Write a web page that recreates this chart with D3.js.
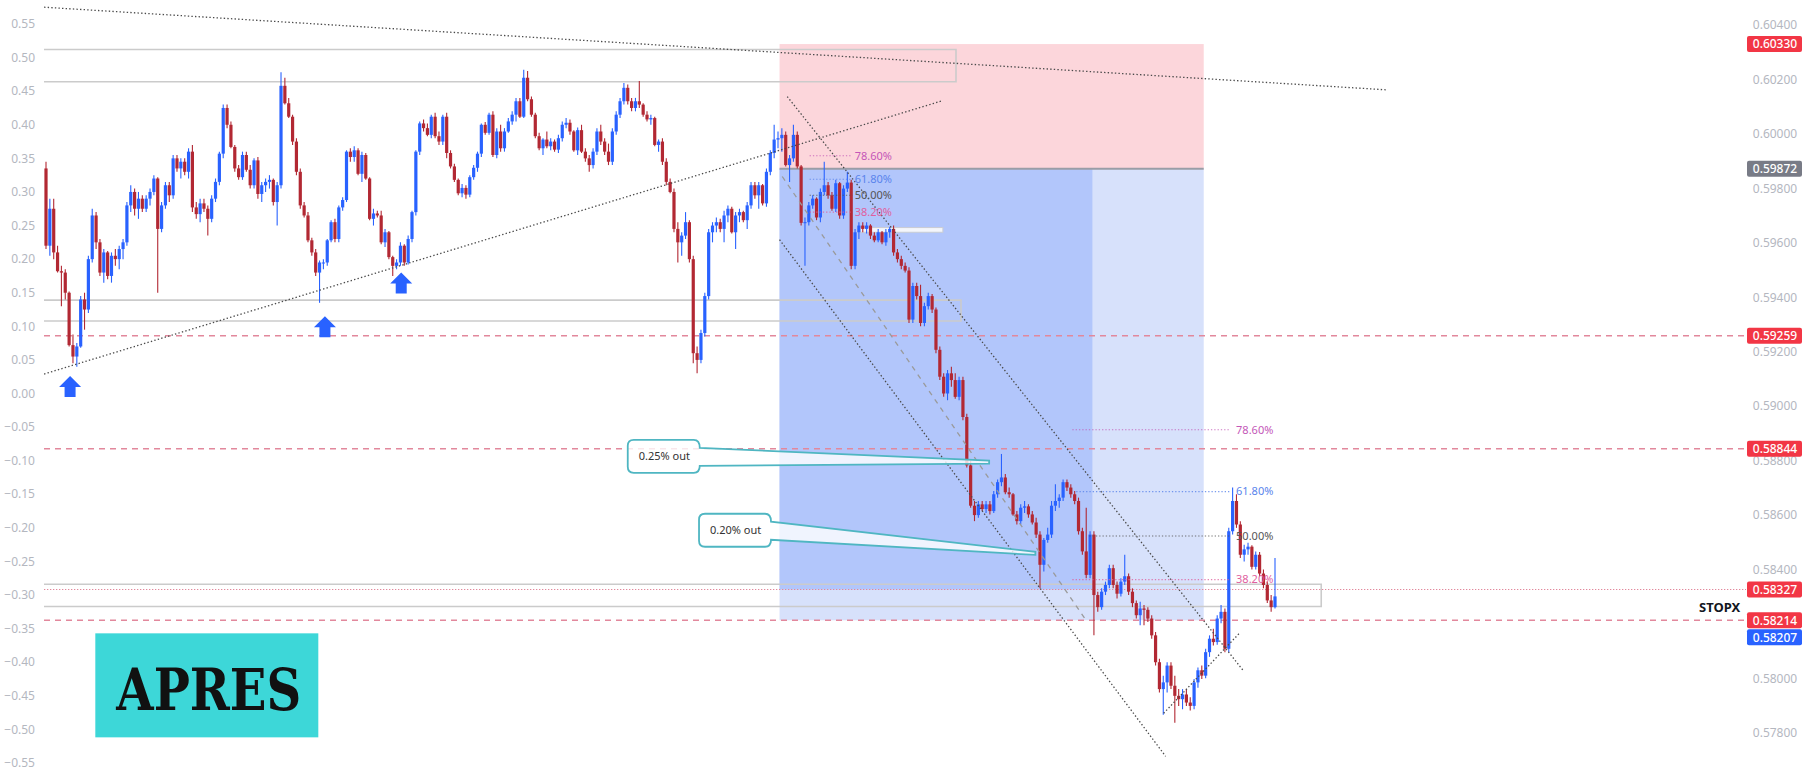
<!DOCTYPE html>
<html><head><meta charset="utf-8">
<script src="https://cdn.jsdelivr.net/npm/d3@7"></script>
<style>html,body{margin:0;padding:0;background:#fff;overflow:hidden}</style>
</head><body><svg id="c" width="1802" height="771"></svg>
<script>
// ---- candle data: [open, high, low, close] in thousandths of the left-axis unit ----
const seg1=[[335,345,215,220],[220,290,205,275],[275,290,200,210],[210,220,180,182],[182,190,130,180],[180,185,140,150],[150,152,70,72],[72,88,45,55],[55,75,40,70],[70,145,68,140],
[140,150,95,125],[125,205,120,200],[200,275,195,265],[265,270,215,225],[225,230,175,180],[180,215,165,210],[210,212,170,175],[175,210,165,205],[205,215,190,200],[200,220,185,215],
[215,230,200,225],[225,285,220,280],[280,310,270,300],[300,305,265,275],[275,300,260,290],[290,295,270,275],[275,295,270,290],[290,305,280,300],[300,325,295,320],[320,322,150,245],
[245,285,240,280],[280,315,275,310],[310,315,285,295],[295,355,290,350],[350,355,330,335],[335,350,320,345],[345,350,325,330],[330,365,320,360],[360,370,270,277],[277,285,260,267],
[267,290,255,283],[283,290,270,275],[275,280,235,260],[260,295,255,290],[290,320,285,315],[315,360,310,357]];
const seg2=[[357,430,350,425],[425,430,395,400],[400,405,365,367],[367,370,330,335],[335,340,318,322],[322,360,318,355],[355,360,330,333],[333,340,305,310],[310,350,305,347],[347,352,290,297],
[297,315,285,310],[310,320,300,315],[315,325,305,318],[318,320,280,285],[285,315,250,310],[310,478,305,458],[458,470,430,432],[432,440,410,412],[412,415,370,375],[375,380,325,330],
[330,335,275,280],[280,285,262,265],[265,270,225,228],[228,232,205,210],[210,215,175,180],[180,198,135,195],[195,200,185,195],[195,230,190,228],[228,258,225,255],[255,260,225,230],
[230,280,225,277],[277,292,272,288],[288,362,285,360],[360,365,345,352],[352,368,345,362],[362,365,325,327],[327,360,315,355],[355,358,318,320],[320,322,258,260],[260,275,250,268],
[268,272,262,265],[265,272,222,225],[225,245,218,240],[240,242,200,203],[203,205,175,190],[190,200,185,195],[195,225,190,220],[220,222,190,195],[195,235,192,230],[230,272,225,270],
[270,362,265,360],[360,405,355,402]];
const seg3=[[402,408,390,395],[395,402,383,385],[385,415,380,412],[412,418,380,383],[383,390,370,375],[375,415,370,412],[412,418,350,358],[358,362,335,338],[338,342,315,318],[318,320,295,298],
[298,312,292,306],[306,310,290,296],[296,325,292,322],[322,340,318,336],[336,360,330,357],[357,402,352,400],[400,404,385,388],[388,418,385,415],[415,420,352,355],[355,395,350,390],
[390,400,360,365],[365,395,360,390],[390,410,388,405],[405,420,400,415],[415,440,405,435],[435,440,410,412],[412,482,410,470],[470,480,435,438],[438,442,412,415],[415,418,380,383],
[383,388,362,365],[365,380,355,378],[378,390,365,368],[368,380,362,375],[375,378,360,363],[363,385,358,380],[380,405,375,400],[400,410,395,403],[403,408,385,390],[390,392,360,362],
[362,396,355,392],[392,400,358,360],[360,365,345,350],[350,355,330,340],[340,365,335,360],[360,395,355,390]];
const seg4=[[390,400,370,375],[375,380,355,360],[360,372,340,345],[345,395,340,390],[390,420,385,415],[415,440,410,435],[435,462,430,455],[455,460,430,435],[435,440,420,425],[425,440,420,435],
[435,465,425,430],[430,432,412,415],[415,420,405,408],[408,415,400,410],[410,412,368,370],[370,378,360,375],[375,380,340,345],[345,350,310,315],[315,320,298,300],[300,305,240,245],
[245,255,195,225],[225,240,205,235],[235,270,230,255],[255,258,195,200],[200,205,45,60],[60,70,30,50],[50,95,45,90],[90,150,85,145],[145,245,140,240],[240,255,225,250],
[250,262,240,255],[255,260,240,245],[245,272,225,265],[265,280,255,275],[275,278,238,240],[240,270,215,265],[265,275,255,270],[270,272,255,258],[258,285,245,280],[280,315,275,310],
[310,315,290,295],[295,315,275,310],[310,312,280,283],[283,335,278,330],[330,362,325,358],[358,400,350,378],[378,390,365,380],[380,395,360,385],[385,390,338,340]];
const seg5=[[340,355,315,350],[350,400,345,385],[385,390,335,338],[338,340,250,254],[254,262,190,255],[255,285,250,280],[280,295,275,290],[290,292,258,262],[262,305,255,300],[300,345,295,310],
[310,315,290,295],[295,300,272,275],[275,318,270,313],[313,315,260,265],[265,310,260,305],[305,330,300,314],[314,318,185,190],[190,245,185,240],[240,255,230,250],[250,255,240,245],
[245,255,238,250],[250,252,230,235],[235,240,225,228],[228,245,225,240],[240,242,222,225]];
const seg6=[[225,245,220,240],[240,248,232,245],[245,250,205,210],[210,215,195,200],[200,205,185,190],[190,195,180,183],[183,188,105,110],[110,165,105,160],[160,165,140,145],[145,162,100,105],
[105,135,100,130],[130,150,125,145],[145,148,120,125],[125,128,60,65],[65,70,20,25],[25,30,-5,0],[0,35,-10,30],[30,40,10,20],[20,30,-8,-5],[-5,25,-10,20],
[20,25,-40,-35],[-35,-30,-110,-107],[-107,-100,-170,-167]];
const seg7=[[-167,-160,-190,-181],[-181,-160,-185,-165],[-165,-160,-175,-172],[-172,-160,-178,-165],[-165,-160,-180,-175],[-175,-145,-178,-150],[-150,-128,-155,-132],[-132,-90,-138,-125],[-125,-120,-150,-147],[-147,-140,-155,-150],
[-150,-148,-182,-180],[-180,-175,-195,-190],[-190,-165,-195,-170],[-170,-160,-178,-168],[-168,-165,-185,-180],[-180,-175,-195,-192],[-192,-185,-215,-210],[-210,-205,-290,-255],[-255,-215,-265,-218],[-218,-200,-222,-210],
[-210,-160,-215,-167],[-167,-135,-175,-160],[-160,-150,-170,-155],[-155,-128,-160,-132],[-132,-128,-145,-140],[-140,-135,-155,-150],[-150,-145,-165,-160],[-160,-155,-210,-205],[-205,-200,-240,-235],[-235,-170,-275,-270],
[-270,-205,-275,-210],[-210,-205,-360,-300]];
const seg8=[[-300,-295,-325,-318],[-318,-290,-322,-295],[-295,-280,-300,-285],[-285,-255,-290,-260],[-260,-255,-290,-285],[-285,-280,-305,-298],[-298,-275,-302,-280],[-280,-240,-285,-272],[-272,-268,-300,-295],[-295,-290,-318,-312],
[-312,-308,-335,-330],[-330,-310,-345,-320],[-320,-315,-345,-322],[-322,-318,-340,-335],[-335,-330,-365,-360],[-360,-355,-405,-400],[-400,-395,-445,-440],[-440,-420,-478,-430],[-430,-400,-445,-405],[-405,-400,-440,-435],
[-435,-420,-490,-450],[-450,-440,-465,-455],[-455,-440,-470,-448],[-448,-440,-465,-460],[-460,-452,-472,-465],[-465,-425,-470,-430],[-430,-408,-438,-412],[-412,-405,-425,-420],[-420,-380,-424,-385],[-385,-360,-392,-365],
[-365,-350,-375,-370],[-370,-330,-374,-335],[-335,-315,-342,-325],[-325,-320,-385,-380],[-380,-200,-385,-205],[-205,-140,-210,-160],[-160,-150,-200,-195],[-195,-190,-245,-240],[-240,-225,-250,-232],[-232,-222,-240,-228],
[-228,-226,-262,-258],[-258,-235,-262,-240],[-240,-236,-272,-268],[-268,-262,-290,-285],[-285,-280,-312,-308],[-308,-300,-325,-318],[-318,-245,-320,-302]];

const leftTicks=[0.55,0.50,0.45,0.40,0.35,0.30,0.25,0.20,0.15,0.10,0.05,0.00,-0.05,-0.10,-0.15,-0.20,-0.25,-0.30,-0.35,-0.40,-0.45,-0.50,-0.55];
const rightTicks=[0.604,0.602,0.600,0.598,0.596,0.594,0.592,0.590,0.588,0.586,0.584,0.580,0.578];
const priceLabels=[{v:0.60330,c:"#f23645"},{v:0.59872,c:"#787b86"},{v:0.59259,c:"#f23645"},{v:0.58844,c:"#f23645"},{v:0.58327,c:"#f23645"},{v:0.58214,c:"#f23645"},{v:0.58207,c:"#2962ff"}];
const dashedLevels=[0.59259,0.58844,0.58214];
const dottedLevels=[0.58327];
// drawings anchored in (bar index, left-axis thousandths)
const rectBoxes=[{b1:236.2,v0:512,v1:464},{b1:237.5,v0:139,v1:108},{b1:331,v0:-284,v1:-317}];
const smallBox={b0:211.2,b1:232.8,v0:247,v1:240};
const position={startBar:190.4,endBar:300.5,fillEndBar:271.6,stop:0.60330,entry:0.59872,target:0.58214,last:0.58327};
const dottedTrend=[[-0.5,575,347.9,452],[-0.5,29,232.8,436],[192.4,442,310.7,-412],[190.4,229,290.6,-540],[290.1,-476,309.9,-356]];
const dashedTrend=[[191.1,323,270,-338]];
const fibNames=["78.60%","61.80%","50.00%","38.20%"];
const fibColors=["#c457b8","#5a84ec","#555555","#e0609e"];
const fib1={values:[354,319,295,270],from:[198.2,198.2,198.2,198.2],to:[209,209.4,209.4,209],labelBar:209.9};
const fib2={values:[-54,-146,-212,-277],from:[266.4,267.4,270.8,266.4],to:[307.3,307.3,307.3,307.3],labelBar:308.9};
const callouts=[{text:"0.25% out",bar:151,v:-69,tipBar:244.8,tipV:-102},{text:"0.20% out",bar:169.5,v:-179,tipBar:256.8,tipV:-238}];
const arrows=[[6.25,26],[72.4,115],[92.2,180]];
const stopText={text:"STOPX",bar:434.4,v:-318};
const tag={text:"APRES",bar:12.8,v:-357};

const candles=[].concat(seg1,seg2,seg3,seg4,seg5,seg6,seg7,seg8);
const N=candles.length;

const svg=d3.select("#c");
const xb=d3.scaleLinear().domain([0,N-1]).range([46,1275]);
const yL=d3.scaleLinear().domain([-550,550]).range([763,24]);
const yR=d3.scaleLinear().domain([0.578,0.604]).range([733,25]);
const RED="#b22833",BLUE="#2962ff";
const FONT="'Noto Sans', 'Open Sans', sans-serif";
const PLOT_LEFT=44;

// position tool zones
const p=position;
svg.append("rect").attr("x",xb(p.startBar)).attr("width",xb(p.endBar)-xb(p.startBar))
 .attr("y",yR(p.stop)).attr("height",yR(p.entry)-yR(p.stop)).attr("fill","#fcd6db");
svg.append("rect").attr("x",xb(p.startBar)).attr("width",xb(p.endBar)-xb(p.startBar))
 .attr("y",yR(p.entry)).attr("height",yR(p.target)-yR(p.entry)).attr("fill","#d7e1fb");
svg.append("rect").attr("x",xb(p.startBar)).attr("width",xb(p.fillEndBar)-xb(p.startBar))
 .attr("y",yR(p.entry)).attr("height",yR(p.last)-yR(p.entry)).attr("fill","#b2c6fb");
svg.append("line").attr("x1",xb(p.startBar)).attr("x2",xb(p.endBar)).attr("y1",yR(p.entry)).attr("y2",yR(p.entry))
 .attr("stroke","#9a9da6").attr("stroke-width",2);

// outlined rectangles (left edge lies beyond the visible history)
svg.selectAll(".box").data(rectBoxes).join("path")
 .attr("d",d=>`M${PLOT_LEFT},${yL(d.v0)} H${xb(d.b1)} V${yL(d.v1)} H${PLOT_LEFT}`)
 .attr("fill","none").attr("stroke","#cbcbcb").attr("stroke-width",1.6);
svg.append("rect").attr("x",xb(smallBox.b0)).attr("width",xb(smallBox.b1)-xb(smallBox.b0))
 .attr("y",yL(smallBox.v0)).attr("height",yL(smallBox.v1)-yL(smallBox.v0))
 .attr("fill","#f4f6fb").attr("stroke","#c9ccd4").attr("stroke-width",1);

// horizontal levels
svg.selectAll(".dl").data(dashedLevels).join("line").attr("x1",PLOT_LEFT).attr("x2",1746)
 .attr("y1",d=>yR(d)).attr("y2",d=>yR(d)).attr("stroke","#e2889c").attr("stroke-width",1.6).attr("stroke-dasharray","6,5");
svg.selectAll(".dt").data(dottedLevels).join("line").attr("x1",PLOT_LEFT).attr("x2",1746)
 .attr("y1",d=>yR(d)).attr("y2",d=>yR(d)).attr("stroke","#e2889c").attr("stroke-width",1.2).attr("stroke-dasharray","1.3,1.7");

// candles
const cg=svg.append("g");
const bw=3.2;
cg.selectAll("line").data(candles).join("line")
 .attr("x1",(d,i)=>xb(i)).attr("x2",(d,i)=>xb(i)).attr("y1",d=>yL(d[1])).attr("y2",d=>yL(d[2]))
 .attr("stroke",d=>d[3]>=d[0]?BLUE:RED).attr("stroke-width",1.1);
cg.selectAll("rect").data(candles).join("rect")
 .attr("x",(d,i)=>xb(i)-bw/2).attr("width",bw)
 .attr("y",d=>yL(Math.max(d[0],d[3])))
 .attr("height",d=>Math.max(1,Math.abs(yL(d[0])-yL(d[3]))))
 .attr("fill",d=>d[3]>=d[0]?BLUE:RED);

// trend lines
svg.selectAll(".tl").data(dottedTrend).join("line")
 .attr("x1",d=>xb(d[0])).attr("y1",d=>yL(d[1])).attr("x2",d=>xb(d[2])).attr("y2",d=>yL(d[3]))
 .attr("stroke","#4a4a4a").attr("stroke-width",1.3).attr("stroke-dasharray","1.4,2.2");
svg.selectAll(".td").data(dashedTrend).join("line")
 .attr("x1",d=>xb(d[0])).attr("y1",d=>yL(d[1])).attr("x2",d=>xb(d[2])).attr("y2",d=>yL(d[3]))
 .attr("stroke","#9a9a9a").attr("stroke-width",1.3).attr("stroke-dasharray","5,5");

// fibs
[fib1,fib2].forEach(f=>{
 f.values.forEach((v,k)=>{
  svg.append("line").attr("x1",xb(f.from[k])).attr("x2",xb(f.to[k])).attr("y1",yL(v)).attr("y2",yL(v))
   .attr("stroke",fibColors[k]).attr("stroke-width",1.1).attr("stroke-dasharray","1.3,2").attr("opacity",0.8);
  svg.append("text").attr("x",xb(f.labelBar)).attr("y",yL(v)).attr("dy","0.35em")
   .attr("font-family",FONT).attr("font-size",11).attr("fill",fibColors[k]).text(fibNames[k]);
 });
});

// callouts
callouts.forEach(c=>{
 const x0=xb(c.bar),y0=yL(c.v);
 const w=72,h=33,r=6;
 const x1=x0+w,y1=y0+h;
 const tx=xb(c.tipBar),ty=yL(c.tipV);
 const path=`M${x0+r},${y0} L${x1-r},${y0} Q${x1},${y0} ${x1},${y0+r+2} L${tx},${ty-1.5} L${tx},${ty+1.5} L${x1},${y1-r-1} Q${x1},${y1} ${x1-r},${y1} L${x0+r},${y1} Q${x0},${y1} ${x0},${y1-r} L${x0},${y0+r} Q${x0},${y0} ${x0+r},${y0} Z`;
 svg.append("path").attr("d",path).attr("fill","rgba(255,255,255,0.8)").attr("stroke","#4fb6c2").attr("stroke-width",1.8);
 svg.append("text").attr("x",x0+11).attr("y",y0+h/2).attr("dy","0.35em").attr("font-family",FONT)
  .attr("font-size",11).attr("fill","#333").text(c.text);
});

// arrows
svg.selectAll(".ar").data(arrows).join("path")
 .attr("transform",d=>`translate(${xb(d[0])},${yL(d[1])})`)
 .attr("d","M0,0 L11,11 L5.5,11 L5.5,21 L-5.5,21 L-5.5,11 L-11,11 Z").attr("fill",BLUE);

// left axis
svg.append("g").selectAll("text").data(leftTicks).join("text")
 .attr("x",35).attr("y",d=>yL(d*1000)).attr("dy","0.35em").attr("text-anchor","end")
 .attr("font-family",FONT).attr("font-size",12).attr("fill","#b4b7bf")
 .text(d=>d3.format(".2f")(d).replace("-","\u2212"));

// right axis
svg.append("g").selectAll("text").data(rightTicks).join("text")
 .attr("x",1775).attr("y",d=>yR(d)).attr("dy","0.35em").attr("text-anchor","middle")
 .attr("font-family",FONT).attr("font-size",12).attr("fill","#b4b7bf")
 .text(d=>d3.format(".5f")(d));

// price labels
let prevY=-100;
priceLabels.forEach(l=>{
 let y=yR(l.v);
 if(y-prevY<17) y=prevY+17;
 prevY=y;
 svg.append("rect").attr("x",1747).attr("y",y-8).attr("width",55).attr("height",16).attr("rx",2).attr("fill",l.c);
 svg.append("text").attr("x",1775).attr("y",y).attr("dy","0.36em").attr("text-anchor","middle")
  .attr("font-family",FONT).attr("font-size",12).attr("font-weight",500).attr("fill","#fff").text(d3.format(".5f")(l.v));
});

// STOPX
svg.append("text").attr("x",xb(stopText.bar)).attr("y",yL(stopText.v)).attr("dy","0.35em").attr("text-anchor","middle")
 .attr("font-family",FONT).attr("font-weight",700).attr("font-size",13).attr("fill","#131722").text(stopText.text);

// APRES tag
const tx0=xb(tag.bar),ty0=yL(tag.v);
svg.append("rect").attr("x",tx0).attr("y",ty0).attr("width",223).attr("height",104).attr("fill","#3dd7d8");
svg.append("text").attr("x",tx0+21).attr("y",ty0+77).attr("font-family","'DejaVu Serif', serif").attr("font-weight",700)
 .attr("font-size",58).attr("fill","#111").attr("textLength",185).attr("lengthAdjust","spacingAndGlyphs").text(tag.text);
</script></body></html>
